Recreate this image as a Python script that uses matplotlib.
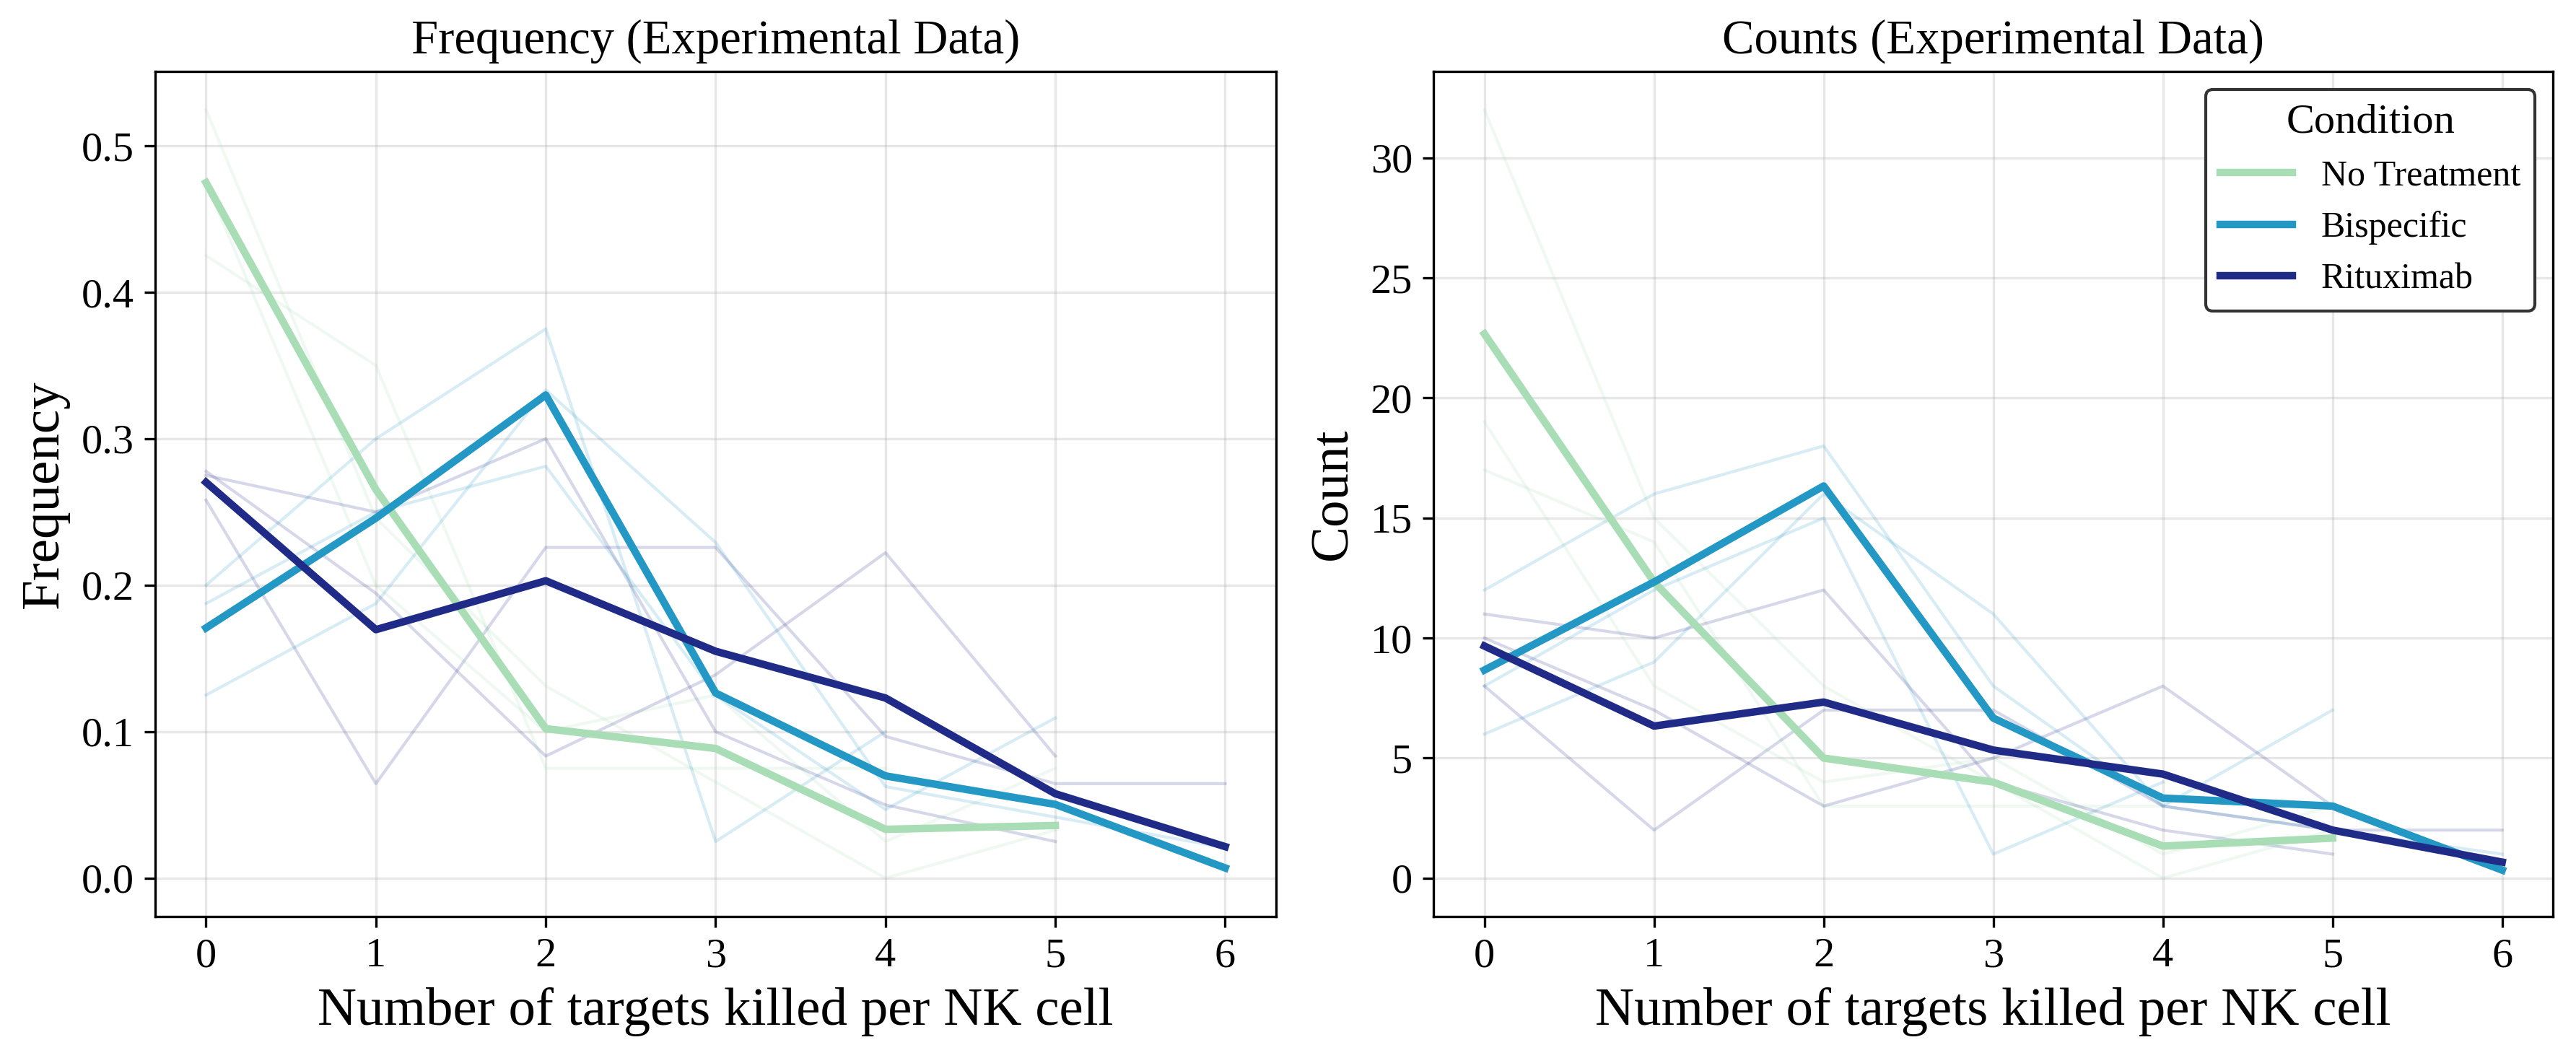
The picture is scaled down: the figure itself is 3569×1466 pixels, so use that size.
import numpy as np
import matplotlib

matplotlib.use("Agg")
import matplotlib.pyplot as plt

plt.rcParams["font.family"] = ["Liberation Serif", "DejaVu Serif"]

kills = [0, 1, 2, 3, 4, 5, 6]
conditions = ["No Treatment", "Bispecific", "Rituximab"]
colors = ["#a8ddb5", "#2498c4", "#202b87"]

# counts per replicate, index = number of targets killed per NK cell
no_treatment_reps = [
    [32, 15, 8, 4, 0, 2],
    [19, 8, 4, 5, 1, 3],
    [17, 14, 3, 3, 3],
]
bispecific_reps = [
    [12, 16, 18, 8, 3, 7],
    [8, 12, 15, 1, 4],
    [6, 9, 16, 11, 3, 2, 1],
]
rituximab_reps = [
    [11, 10, 12, 4, 2, 1],
    [10, 7, 3, 5, 8, 3],
    [8, 2, 7, 7, 3, 2, 2],
]
replicates = [no_treatment_reps, bispecific_reps, rituximab_reps]


def padded(reps):
    n = max(len(r) for r in reps)
    return np.array([list(r) + [0] * (n - len(r)) for r in reps], dtype=float)


fig = plt.figure(figsize=(3569 / 300, 1466 / 300), dpi=300)
ax_freq = fig.add_axes([0.0602, 0.1337, 0.4352, 0.7988])
ax_count = fig.add_axes([0.5565, 0.1337, 0.4346, 0.7988])

for name, color, reps in zip(conditions, colors, replicates):
    # thin lines: each replicate
    for r in reps:
        r = np.array(r, dtype=float)
        x = kills[: len(r)]
        ax_freq.plot(x, r / r.sum(), color=color, lw=1.0, alpha=0.18)
        ax_count.plot(x, r, color=color, lw=1.0, alpha=0.18)

for name, color, reps in zip(conditions, colors, replicates):
    mat = padded(reps)
    freq = mat / np.array([sum(r) for r in reps], dtype=float)[:, None]
    x = kills[: mat.shape[1]]
    ax_freq.plot(x, freq.mean(axis=0), color=color, lw=2.5, label=name)
    ax_count.plot(x, mat.mean(axis=0), color=color, lw=2.5, label=name)

for ax, title, ylabel in [
    (ax_freq, "Frequency (Experimental Data)", "Frequency"),
    (ax_count, "Counts (Experimental Data)", "Count"),
]:
    ax.set_title(title, fontsize=16)
    ax.set_xlabel("Number of targets killed per NK cell", fontsize=18)
    ax.set_ylabel(ylabel, fontsize=18)
    ax.set_xticks(kills)
    ax.tick_params(labelsize=14)
    ax.grid(True, alpha=0.3)

leg = ax_count.legend(title="Condition", fontsize=12, title_fontsize=14,
                      loc="upper right", framealpha=1, edgecolor="#333333")

fig.savefig("out.png", dpi=300)
